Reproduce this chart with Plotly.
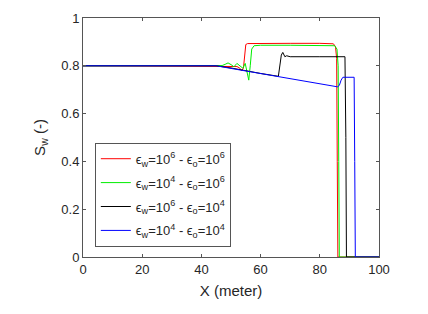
import plotly.graph_objects as go

# Series data
x_red = [0, 45, 50, 52, 53, 53.6, 54.2, 54.6, 55.0, 55.6, 60, 70, 80, 84.6, 85.3, 85.7, 85.9, 86.1, 100]
y_red = [0.8, 0.8, 0.8, 0.797, 0.79, 0.78, 0.79, 0.86, 0.889, 0.893, 0.894, 0.894, 0.894, 0.892, 0.88, 0.83, 0.4, 0.0, 0.0]

x_green = [0, 45, 47, 48, 49, 50, 51, 52, 53, 54, 54.8, 55.5, 56.0, 56.5, 57.0, 57.8, 60, 70, 80, 85.0, 85.8, 86.2, 86.4, 86.6, 100]
y_green = [0.8, 0.8, 0.801, 0.806, 0.812, 0.805, 0.796, 0.81, 0.80, 0.79, 0.81, 0.76, 0.74, 0.80, 0.87, 0.884, 0.886, 0.886, 0.886, 0.884, 0.87, 0.80, 0.4, 0.0, 0.0]

x_black = [0, 45, 50, 55, 60, 66.0, 66.6, 67.0, 67.5, 68.2, 68.8, 70, 80, 88.5, 88.8, 89.0, 100]
y_black = [0.8, 0.8, 0.791, 0.779, 0.768, 0.756, 0.80, 0.845, 0.856, 0.838, 0.842, 0.838, 0.838, 0.838, 0.5, 0.0, 0.0]

x_blue = [0, 45, 50, 55, 60, 65, 70, 75, 80, 86.0, 86.6, 87.2, 87.8, 91.6, 91.8, 92.0, 100]
y_blue = [0.8, 0.8, 0.789, 0.778, 0.767, 0.757, 0.746, 0.735, 0.724, 0.712, 0.718, 0.74, 0.752, 0.752, 0.4, 0.0, 0.0]

names = [
    "ϵ<sub>w</sub>=10<sup>6</sup> - ϵ<sub>o</sub>=10<sup>6</sup>",
    "ϵ<sub>w</sub>=10<sup>4</sup> - ϵ<sub>o</sub>=10<sup>6</sup>",
    "ϵ<sub>w</sub>=10<sup>6</sup> - ϵ<sub>o</sub>=10<sup>4</sup>",
    "ϵ<sub>w</sub>=10<sup>4</sup> - ϵ<sub>o</sub>=10<sup>4</sup>",
]
colors = ["#ff0000", "#00ee00", "#000000", "#0000ff"]

x_ticks = [0, 20, 40, 60, 80, 100]
y_ticks = [0, 0.2, 0.4, 0.6, 0.8, 1]

fig = go.Figure()
for i, (xs, ys, nm, c) in enumerate(zip([x_red, x_green, x_black, x_blue],
                                        [y_red, y_green, y_black, y_blue], names, colors)):
    fig.add_trace(go.Scatter(x=xs, y=ys, mode="lines", name=nm, legendgroup=f"g{i}",
                             line=dict(color=c, width=1)))

axcol = "#555555"
fig.update_layout(
    width=428, height=314,
    margin=dict(l=83, r=49, t=11, b=57),
    paper_bgcolor="white", plot_bgcolor="white",
    font=dict(family="Liberation Sans, Arial, sans-serif", size=13, color="#262626"),
    showlegend=True,
    legend=dict(x=0.04, y=0.478, xanchor="left", yanchor="top",
                bgcolor="white", bordercolor=axcol, borderwidth=1,
                font=dict(size=13, color="#262626"), tracegroupgap=4,
                itemwidth=30),
    xaxis=dict(range=[0, 100], tickvals=x_ticks, showgrid=False, zeroline=False,
               showline=True, linecolor=axcol, linewidth=1, mirror="ticks",
               ticks="inside", ticklen=3, tickcolor=axcol,
               title=dict(text="X (meter)", font=dict(size=15), standoff=9)),
    yaxis=dict(range=[0, 1], tickvals=y_ticks, showgrid=False, zeroline=False,
               showline=True, linecolor=axcol, linewidth=1, mirror="ticks",
               ticks="inside", ticklen=3, tickcolor=axcol,
               title=dict(text="S<sub>w</sub> (-)", font=dict(size=15), standoff=12)),
)

fig.write_html("out.html", config={"displayModeBar": False},
               post_script="document.body.style.margin='0';")
